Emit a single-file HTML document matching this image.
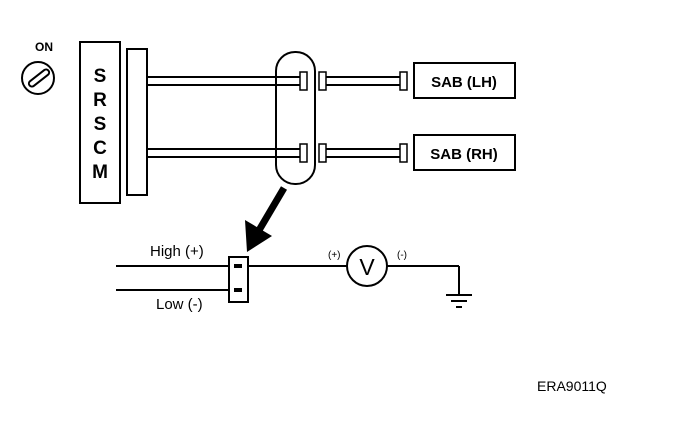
<!DOCTYPE html>
<html><head><style>body{margin:0;background:#fff}svg{display:block}text{font-family:"Liberation Sans",sans-serif;fill:#000}</style></head>
<body>
<svg width="688" height="428" viewBox="0 0 688 428" xmlns="http://www.w3.org/2000/svg">
<g fill="none" stroke="#000" stroke-width="2">
<circle cx="38" cy="78" r="16"/>
<rect x="27" y="75" width="24" height="6" rx="3" transform="rotate(-38 39 78)"/>
<rect x="80" y="42" width="40" height="161"/>
<rect x="127" y="49" width="20" height="146"/>
<line x1="147" y1="77" x2="300" y2="77"/><line x1="147" y1="85" x2="300" y2="85"/>
<line x1="147" y1="149" x2="300" y2="149"/><line x1="147" y1="157" x2="300" y2="157"/>
<rect x="276" y="52" width="39" height="132" rx="19"/>
<rect x="300" y="72" width="7" height="18" stroke-width="1.5"/>
<rect x="319" y="72" width="7" height="18" stroke-width="1.5"/>
<rect x="300" y="144" width="7" height="18" stroke-width="1.5"/>
<rect x="319" y="144" width="7" height="18" stroke-width="1.5"/>
<line x1="326" y1="77" x2="400" y2="77"/><line x1="326" y1="85" x2="400" y2="85"/>
<line x1="326" y1="149" x2="400" y2="149"/><line x1="326" y1="157" x2="400" y2="157"/>
<rect x="400" y="72" width="7" height="18" stroke-width="1.5"/>
<rect x="400" y="144" width="7" height="18" stroke-width="1.5"/>
<rect x="414" y="63" width="101" height="35"/>
<rect x="414" y="135" width="101" height="35"/>
<line x1="116" y1="266" x2="229" y2="266"/>
<line x1="116" y1="290" x2="229" y2="290"/>
<rect x="229" y="257" width="19" height="45"/>
<line x1="248" y1="266" x2="347" y2="266"/>
<circle cx="367" cy="266" r="20"/>
<line x1="387" y1="266" x2="459" y2="266"/>
<line x1="459" y1="266" x2="459" y2="295"/>
<line x1="446" y1="295" x2="472" y2="295"/>
<line x1="451" y1="301" x2="467" y2="301"/>
<line x1="456" y1="307" x2="462" y2="307"/>
</g>
<rect x="234" y="264" width="8" height="4"/>
<rect x="234" y="288" width="8" height="4"/>
<line x1="284" y1="188" x2="258" y2="232" stroke="#000" stroke-width="7"/>
<polygon points="247,252 245,220 272,236" fill="#000"/>
<text x="35" y="51" font-size="12" font-weight="bold">ON</text>
<g font-size="19" font-weight="bold" text-anchor="middle"><text x="100" y="82">S</text><text x="100" y="106">R</text><text x="100" y="130">S</text><text x="100" y="154">C</text><text x="100" y="178">M</text></g>
<text x="464" y="87" font-size="15" font-weight="bold" text-anchor="middle">SAB (LH)</text>
<text x="464" y="159" font-size="15" font-weight="bold" text-anchor="middle">SAB (RH)</text>
<text x="150" y="256" font-size="15">High (+)</text>
<text x="156" y="309" font-size="15">Low (-)</text>
<text x="367" y="275" font-size="23" text-anchor="middle">V</text>
<text x="328" y="258" font-size="10">(+)</text>
<text x="397" y="258" font-size="10">(-)</text>
<text x="537" y="391" font-size="14">ERA9011Q</text>
</svg>
</body></html>
